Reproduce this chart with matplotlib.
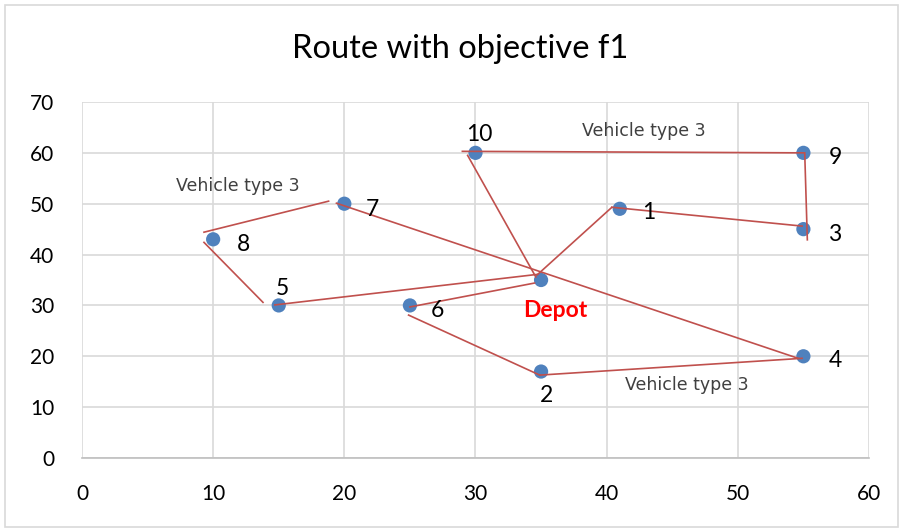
import matplotlib
matplotlib.use("Agg")
import matplotlib.pyplot as plt
from matplotlib.patches import Rectangle

# customer nodes (depot first)
node_names = ["Depot", "1", "2", "3", "4", "5", "6", "7", "8", "9", "10"]
node_x = [35, 41, 35, 55, 55, 15, 25, 20, 10, 55, 30]
node_y = [35, 49, 17, 45, 20, 30, 30, 50, 43, 60, 60]

# hand drawn route segments (x0, y0, x1, y1)
seg_x0 = [29.0, 55.1, 54.9, 40.4, 29.4, 19.4, 18.8, 9.3, 14.7, 25.0, 24.9, 34.9]
seg_y0 = [60.3, 60.0, 45.6, 49.3, 59.5, 50.1, 50.5, 42.4, 30.1, 29.7, 28.1, 16.3]
seg_x1 = [55.0, 55.3, 40.4, 34.7, 34.6, 54.6, 9.3, 13.8, 34.7, 34.5, 34.9, 54.9]
seg_y1 = [60.0, 42.9, 49.3, 36.0, 35.6, 19.6, 44.4, 30.6, 36.1, 34.4, 16.3, 19.6]

# vehicle labels
veh_text = ["Vehicle type 3", "Vehicle type 3", "Vehicle type 3"]
veh_x = [7.2, 38.1, 41.4]
veh_y = [53.5, 64.2, 14.4]

fnt = ["Lato", "DejaVu Sans"]
plt.rcParams['font.family'] = fnt
plt.rcParams['xtick.major.pad'] = 19
plt.rcParams['ytick.major.pad'] = 20
plt.rcParams['xtick.major.size'] = 0
plt.rcParams['ytick.major.size'] = 0

fig = plt.figure(figsize=(9.02, 5.29), dpi=100)
fig.patches.append(Rectangle((0.006, 0.004), 0.99, 0.986, transform=fig.transFigure,
                             fill=False, edgecolor="#d9d9d9", linewidth=1.2))
ax = fig.add_axes([0.0909, 0.1342, 0.8725, 0.673])

for i in range(len(seg_x0)):
    ax.plot([seg_x0[i], seg_x1[i]], [seg_y0[i], seg_y1[i]], color="#c0504d", lw=1.2, zorder=3)

ax.scatter(node_x, node_y, s=105, color="#4f81bd", zorder=2, edgecolors="none")

# node labels
offsets = {"Depot": (1.1, -5.9), "1": (1.7, -0.8), "2": (-0.1, -4.8), "3": (1.9, -1.1),
           "4": (1.9, -0.8), "5": (-0.2, 3.4), "6": (1.6, -1.0), "7": (1.6, -1.2),
           "8": (1.8, -1.0), "9": (1.9, -1.0), "10": (-0.7, 3.6)}
for n, x, y in zip(node_names, node_x, node_y):
    dx, dy = offsets[n]
    if n == "Depot":
        ax.text(x + dx, y + dy, n, color="red", fontsize=16.5, fontweight="bold",
                ha="center", va="center")
    else:
        ax.text(x + dx, y + dy, n, color="black", fontsize=16.5, ha="left", va="center")

for t, x, y in zip(veh_text, veh_x, veh_y):
    ax.text(x, y, t, color="#404040", fontsize=12.5, ha="left", va="center",
            family=["DejaVu Sans"])

ax.set_xlim(0, 60)
ax.set_ylim(0, 70)
ax.set_xticks(range(0, 61, 10))
ax.set_yticks(range(0, 71, 10))
ax.grid(True, color="#d9d9d9", lw=1.2)
ax.set_axisbelow(True)
for s in ["top", "right", "left"]:
    ax.spines[s].set_visible(False)
ax.spines["bottom"].set_color("#bfbfbf")
ax.spines["bottom"].set_linewidth(1.2)
ax.tick_params(labelsize=15)

fig.text(0.51, 0.908, "Route with objective f1", ha="center", va="center", fontsize=23.5)

fig.savefig("out.png", dpi=100)
